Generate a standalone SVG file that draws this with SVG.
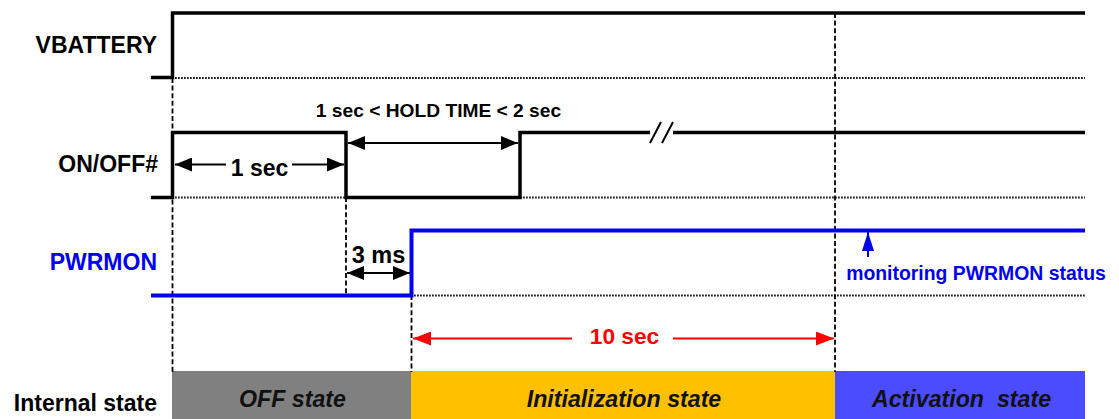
<svg xmlns="http://www.w3.org/2000/svg" width="1119" height="419" viewBox="0 0 1119 419">
<style>
text{font-family:"Liberation Sans",Arial,sans-serif;font-weight:bold;fill:#000}
.lbl{font-size:23px;text-anchor:end}
.st{font-size:23.200px;font-style:italic;text-anchor:middle;fill:#111}
.sig{fill:none;stroke:#000;stroke-width:3.500}
.blue{fill:none;stroke:#0000f0;stroke-width:4}
.dot{fill:none;stroke:#222;stroke-width:1.800;stroke-dasharray:1.800 1.200}
.dash{fill:none;stroke:#000;stroke-width:1.800;stroke-dasharray:5 2.600}
.dim{fill:none;stroke:#000;stroke-width:2}
</style>
<defs>
<marker id="k" markerUnits="userSpaceOnUse" markerWidth="18" markerHeight="14" refX="17" refY="7" orient="auto-start-reverse"><path d="M0 0L17 7L0 14Z" fill="#000"/></marker>
<marker id="r" markerUnits="userSpaceOnUse" markerWidth="19" markerHeight="14" refX="18" refY="7" orient="auto-start-reverse"><path d="M0 0L18 7L0 14Z" fill="#f00"/></marker>
<marker id="b" markerUnits="userSpaceOnUse" markerWidth="20" markerHeight="12" refX="19" refY="6" orient="auto"><path d="M0 0L19 6L0 12Z" fill="#0000f0"/></marker>
</defs>
<rect width="1119" height="419" fill="#fff"/>
<g id="state-off"><rect x="172" y="371" width="239" height="48" fill="#808080"/><text class="st" x="292.500" y="406.500">OFF state</text></g>
<g id="state-init"><rect x="411" y="371" width="424" height="48" fill="#ffc000"/><text class="st" x="624" y="406.500">Initialization state</text></g>
<g id="state-active"><rect x="835" y="371" width="250" height="48" fill="#4b4bff"/><text class="st" x="961.500" y="406.500" xml:space="preserve">Activation  state</text></g>
<g id="connectors">
<path class="dot" d="M172 78H1085M172 197.500H346M520 197.500H1085M411 295.500H1085"/>
<path class="dash" d="M172.500 78V372M346 197V295M411.500 295V372M835 13V372"/>
<path class="sig" d="M151 77.500H172.500V13H1085"/>
<path class="sig" d="M151 197.500H172.500V132.500H346V197.500H520V132.500H650M673 132.500H1085"/>
<path class="dim" d="M650 143L661 122M662 143L673 122"/>
<path class="blue" d="M151 295.500H411.500V230.500H1085"/>
<path class="dim" marker-start="url(#k)" d="M175 164.500H226"/>
<path class="dim" marker-end="url(#k)" d="M292 164.500H344"/>
<path class="dim" marker-start="url(#k)" marker-end="url(#k)" d="M348 143H518"/>
<path class="dim" marker-start="url(#k)" marker-end="url(#k)" d="M347 273H410"/>
<path d="M413 338.500H572" stroke="#f00" stroke-width="2" marker-start="url(#r)"/>
<path d="M673 338.500H834" stroke="#f00" stroke-width="2" marker-end="url(#r)"/>
<path d="M868 257V232" stroke="#0000f0" stroke-width="2" marker-end="url(#b)"/>
</g>
<g id="vbattery"><text class="lbl" x="157" y="53">VBATTERY</text></g>
<g id="onoff"><text class="lbl" x="158" y="172">ON/OFF#</text></g>
<g id="pwrmon"><text class="lbl" x="157" y="270" style="fill:#0000f0">PWRMON</text></g>
<g id="internal"><text class="lbl" x="157" y="411">Internal state</text></g>
<g id="labels">
<text x="259.500" y="176" font-size="23" text-anchor="middle">1 sec</text>
<text x="438.500" y="117" font-size="19.200" text-anchor="middle">1 sec &lt; HOLD TIME &lt; 2 sec</text>
<text x="378.500" y="263" font-size="23.500" text-anchor="middle">3 ms</text>
<text x="624.500" y="344" font-size="22.700" text-anchor="middle" style="fill:#f00">10 sec</text>
<text x="976" y="279.500" font-size="19.400" text-anchor="middle" style="fill:#0000f0">monitoring PWRMON status</text>
</g>
</svg>
